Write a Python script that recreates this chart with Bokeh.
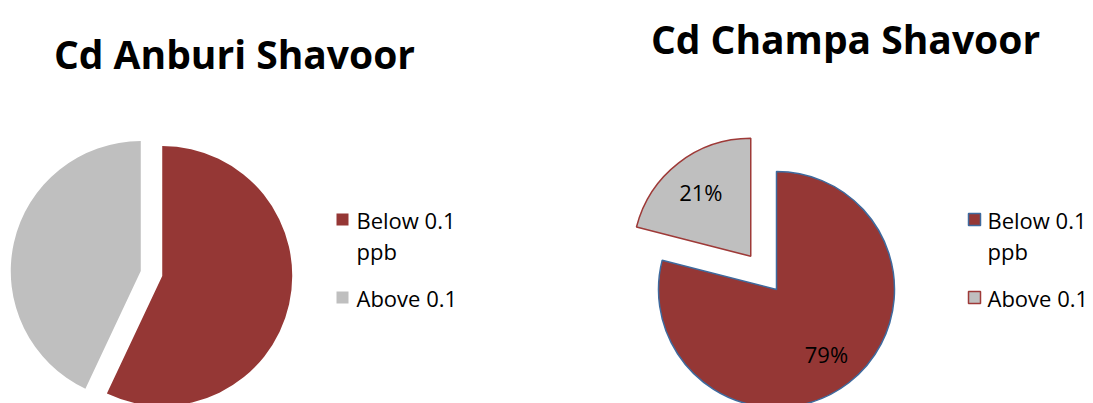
import numpy as np
from bokeh.plotting import figure
from bokeh.models import ColumnDataSource
from bokeh.core.properties import value
from bokeh.embed import file_html
from bokeh.resources import INLINE

# ---- data ----
categories = ["Below 0.1 ppb", "Above 0.1"]
legend_lines = [["Below 0.1", "ppb"], ["Above 0.1"]]
anburi_values = [57, 43]
champa_values = [79, 21]
titles = ["Cd Anburi Shavoor", "Cd Champa Shavoor"]

colors = ["#953735", "#BFBFBF"]
FONT = "Open Sans"

W, H = 1093, 403
p = figure(width=W, height=H, x_range=(0, W), y_range=(0, H),
           x_axis_type=None, y_axis_type=None, output_backend="svg",
           toolbar_location=None, min_border=0)
p.grid.visible = False
p.outline_line_color = None
p.background_fill_color = "white"
p.border_fill_color = "white"


def X(x):
    return x


def Y(y):
    return H - y


def pie(values, cx, cy, r, explode, line_colors, line_alpha, line_width, show_pct):
    v = np.array(values, float)
    frac = v / v.sum()
    a = np.concatenate([[0.0], np.cumsum(frac)])
    start = np.pi / 2 - 2 * np.pi * a[1:]
    end = np.pi / 2 - 2 * np.pi * a[:-1]
    mid = (start + end) / 2
    ex = np.array(explode, float)
    xs = cx + ex * np.cos(mid)
    ys = cy + ex * np.sin(mid)
    src = ColumnDataSource(dict(x=xs, y=ys, start=start, end=end,
                                color=colors, line=line_colors))
    p.wedge(x="x", y="y", radius=r, start_angle="start", end_angle="end",
            fill_color="color", line_color="line", line_alpha=line_alpha,
            line_width=line_width, source=src)
    if show_pct:
        lx = xs + 0.69 * r * np.cos(mid)
        ly = ys + 0.69 * r * np.sin(mid)
        p.text(lx, ly, text=[f"{round(f * 100)}%" for f in frac],
               text_font=value(FONT), text_font_size="22px", text_color="black",
               text_align="center", text_baseline="middle")


def legend(x0, ys, line_colors, line_width, gap):
    sx = [X(x0)] * len(categories)
    sy = [Y(y) for y in ys]
    p.scatter(sx, sy, marker="square", size=12, fill_color=colors,
              line_color=line_colors, line_width=line_width)
    tx, ty, tt = [], [], []
    for lines, y in zip(legend_lines, ys):
        for k, t in enumerate(lines):
            tx.append(X(x0) + gap)
            ty.append(Y(y + 31 * k))
            tt.append(t)
    p.text(tx, ty, text=tt, text_font=value(FONT), text_font_size="22px",
           text_color="black", text_align="left", text_baseline="middle")


# left pie
pie(anburi_values, X(151), Y(273), 130, [11, 11], colors, 0.0, 1, False)
# right pie
pie(champa_values, X(776), Y(289), 118, [0, 42], ["#3E6A9E", "#9E3A38"], 1.0, 1.5, True)

legend(342, [219, 297], colors, 0, 14)
legend(974, [219, 297], ["#3E6A9E", "#9E3A38"], 1.5, 13)

p.text([X(234), X(845)], [Y(53), Y(38)], text=titles, text_font=value(FONT),
       text_font_size="39px", text_font_style="bold", text_color="black",
       text_align="center", text_baseline="alphabetic")

open("out.html", "w").write(file_html(p, INLINE))
